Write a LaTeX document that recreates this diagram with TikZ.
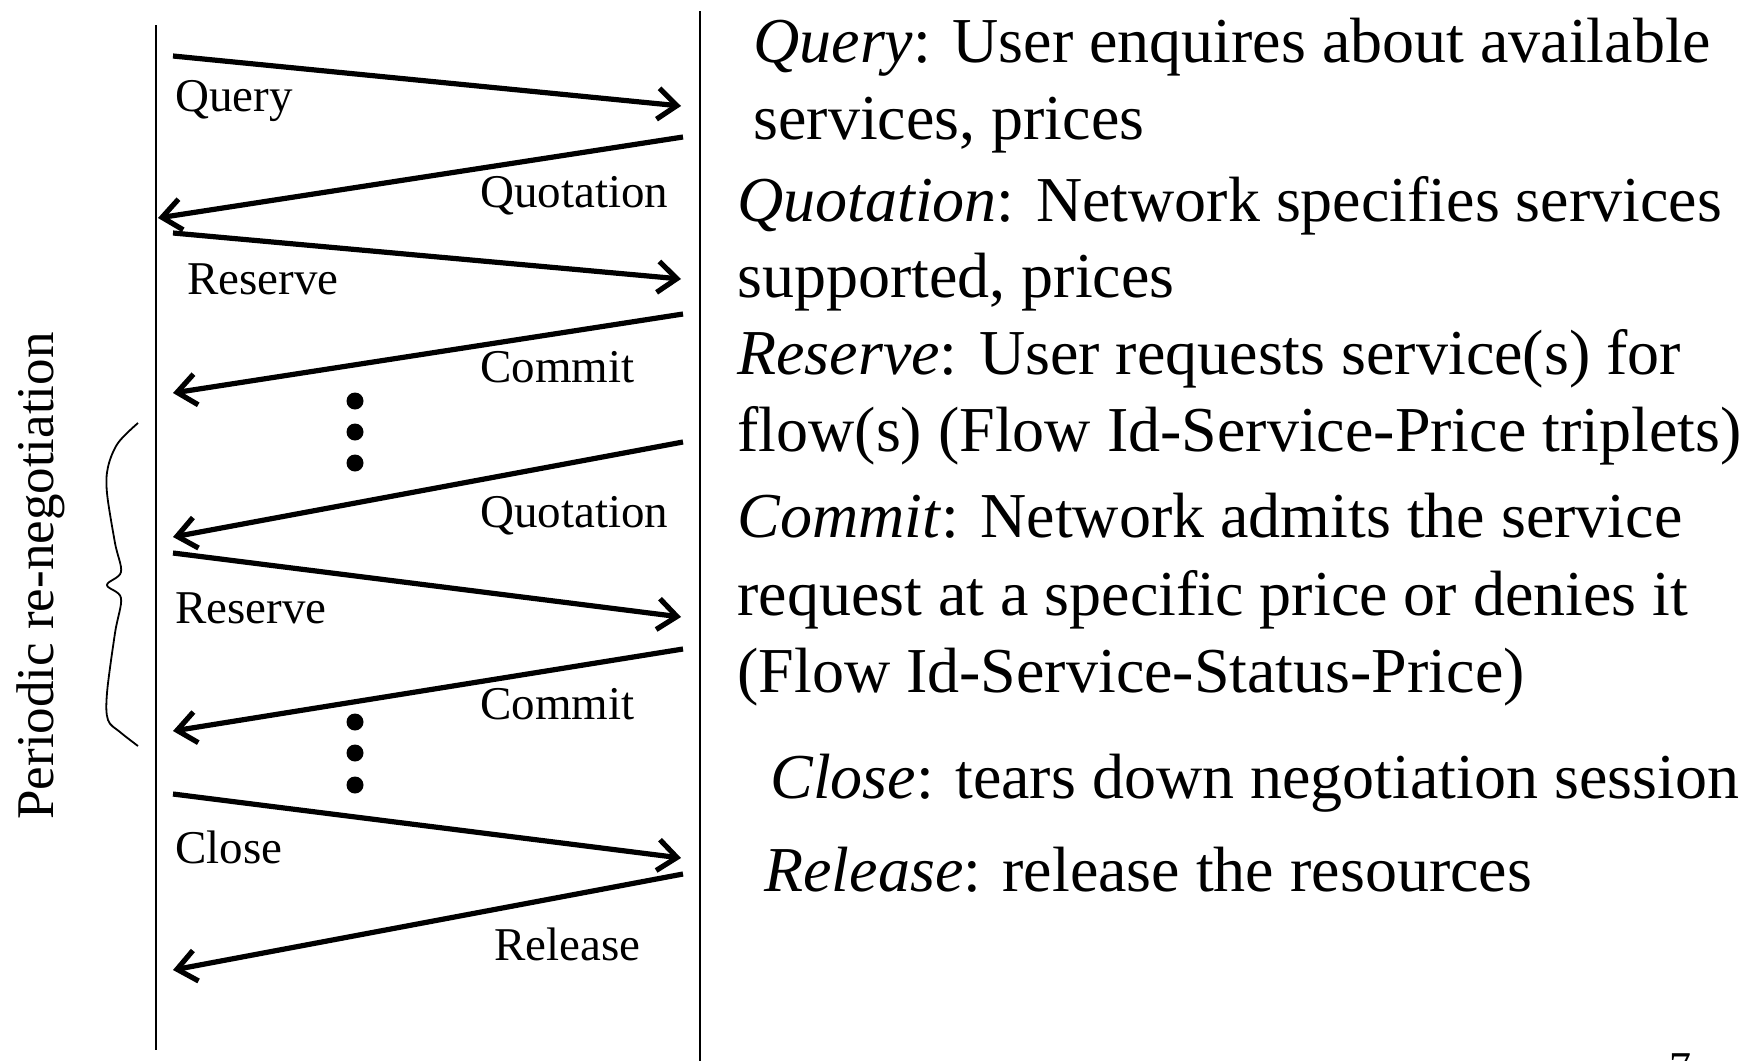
\documentclass[tikz,border=0pt]{standalone}
\usepackage{fontspec}
\setmainfont{Liberation Serif}
\usetikzlibrary{arrows.meta}
\begin{document}
\begin{tikzpicture}[x=0.5pt,y=-0.5pt,
  lifeline/.style={line width=1pt},
  msg/.style={line width=2.6pt, -{Straight Barb[length=9.5pt,width=15.5pt]}},
  lbl/.style={font=\fontsize{23.5}{28}\selectfont, inner sep=0pt, anchor=base west},
  desc/.style={font=\fontsize{32}{38}\selectfont, inner sep=0pt, anchor=base west},
  bigdot/.style={circle, fill=black, inner sep=0pt, minimum size=8.5pt},
  bracestyle/.style={line width=0.9pt}]
\useasboundingbox (0,0) rectangle (1750,1060);

% lifelines
\coordinate (LT) at (156,25);
\coordinate (LB) at (156,1050);
\coordinate (RT) at (700,11);
\coordinate (RB) at (700,1062);
\draw[lifeline] (LT) -- (LB);
\draw[lifeline] (RT) -- (RB);

% message end points
\coordinate (m1s) at (173,56);  \coordinate (m1e) at (681,106);
\coordinate (m2s) at (683,137); \coordinate (m2e) at (158,218);
\coordinate (m3s) at (173,233); \coordinate (m3e) at (681,279);
\coordinate (m4s) at (683,314); \coordinate (m4e) at (173,393);
\coordinate (m5s) at (683,442); \coordinate (m5e) at (173,537);
\coordinate (m6s) at (173,553); \coordinate (m6e) at (681,617);
\coordinate (m7s) at (683,649); \coordinate (m7e) at (173,731);
\coordinate (m8s) at (173,794); \coordinate (m8e) at (681,858);
\coordinate (m9s) at (683,874); \coordinate (m9e) at (173,970);

\draw[msg] (m1s) -- (m1e);
\draw[msg] (m2s) -- (m2e);
\draw[msg] (m3s) -- (m3e);
\draw[msg] (m4s) -- (m4e);
\draw[msg] (m5s) -- (m5e);
\draw[msg] (m6s) -- (m6e);
\draw[msg] (m7s) -- (m7e);
\draw[msg] (m8s) -- (m8e);
\draw[msg] (m9s) -- (m9e);

% message labels
\node[lbl] (l1) at (175,111) {Query};
\node[lbl] (l2) at (480,207) {Quotation};
\node[lbl] (l3) at (187,294) {Reserve};
\node[lbl] (l4) at (480,382) {Commit};
\node[lbl] (l5) at (480,527) {Quotation};
\node[lbl] (l6) at (175,623) {Reserve};
\node[lbl] (l7) at (480,719) {Commit};
\node[lbl] (l8) at (175,863) {Close};
\node[lbl] (l9) at (494,960) {Release};

% dots
\node[bigdot] (d1) at (355,401) {};
\node[bigdot] (d2) at (355,432) {};
\node[bigdot] (d3) at (355,463) {};
\node[bigdot] (d4) at (355,722) {};
\node[bigdot] (d5) at (355,753) {};
\node[bigdot] (d6) at (355,785) {};

% brace
\draw[bracestyle] plot[smooth, tension=0.55] coordinates {
  (138,423) (118,443) (108,467) (107,493) (115,543) (121,572) (107,585)
  (121,598) (115,633) (107,693) (108,720) (120,732) (138,746)};

% rotated label
\node[font=\fontsize{26.5}{32}\selectfont, inner sep=0pt, rotate=90, anchor=base] (per) at (54,576) {Periodic re-negotiation};

% descriptions
\node[desc] (t1) at (753,62) {\textit{Query}: User enquires about available};
\node[desc] (t2) at (753,139) {services, prices};
\node[desc] (t3) at (737,221) {\textit{Quotation}: Network specifies services};
\node[desc] (t4) at (737,297) {supported, prices};
\node[desc] (t5) at (737,374) {\textit{Reserve}: User requests service(s) for};
\node[desc] (t6) at (737,451) {flow(s) (Flow Id-Service-Price triplets)};
\node[desc] (t7) at (737,537) {\textit{Commit}: Network admits the service};
\node[desc] (t8) at (737,615) {request at a specific price or denies it};
\node[desc] (t9) at (737,692) {(Flow Id-Service-Status-Price)};
\node[desc] (t10) at (770,798) {\textit{Close}: tears down negotiation session};
\node[desc] (t11) at (764,891) {\textit{Release}: release the resources};

% page number (cut off at the bottom edge, as in the reference)
\node[font=\fontsize{22}{26}\selectfont, inner sep=0pt, anchor=base] (pg) at (1680,1082) {7};
\end{tikzpicture}
\end{document}
